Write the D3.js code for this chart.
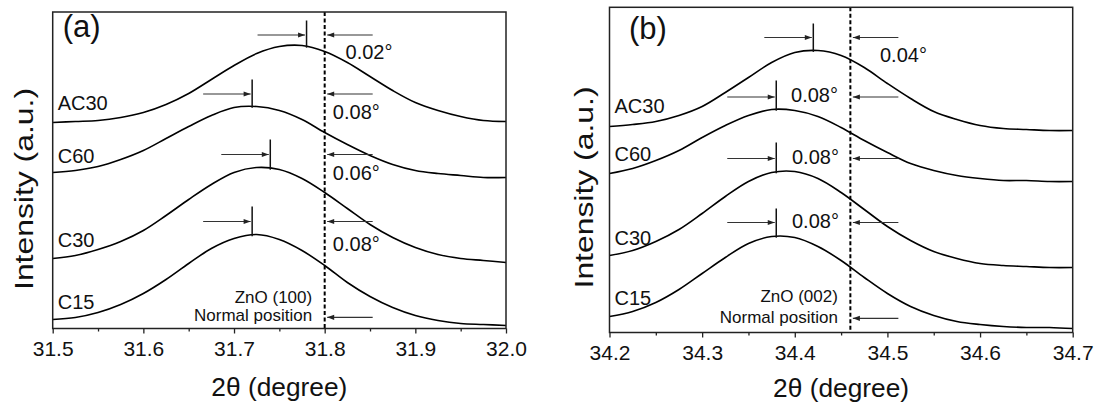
<!DOCTYPE html>
<html><head><meta charset="utf-8">
<script src="https://cdn.jsdelivr.net/npm/d3@7"></script>
<style>
html,body{margin:0;padding:0;background:#fff;}
svg{display:block;font-family:"Liberation Sans",Arial,Helvetica,sans-serif;}
</style></head><body>
<svg id="chart" width="1096" height="405"></svg>
<script>
// ---------- data ----------
const seriesNames = ["AC30", "C60", "C30", "C15"];

// Panel (a): ZnO (100)
const xA = [31.500, 31.525, 31.550, 31.575, 31.600, 31.625, 31.650, 31.675, 31.700, 31.725, 31.750,
            31.775, 31.800, 31.825, 31.850, 31.875, 31.900, 31.925, 31.950, 31.975, 32.000];
const a_AC30 = [206, 207, 208, 211, 216, 224, 235, 249, 263, 275, 282, 283, 277, 266, 252, 238, 226, 218, 212, 208, 207];
const a_C60  = [156, 158, 162, 169, 178, 190, 202, 213, 221, 222, 218, 209, 196, 184, 173, 164, 158, 155, 153, 151, 151];
const a_C30  = [70, 73, 79, 87, 98, 113, 129, 144, 156, 161, 159, 150, 136, 120, 104, 91, 81, 74, 70, 68, 66];
const a_C15  = [9, 11, 16, 24, 35, 49, 65, 80, 90, 94, 89, 78, 63, 46, 32, 21, 13, 8, 5, 4, 3];
const a_peak = [31.78, 31.72, 31.74, 31.72];
const a_shift = ["0.02°", "0.08°", "0.06°", "0.08°"];
const a_ref = 31.80;
const a_markTop = [308, 249, 189, 122];
const a_arrowLevel = [293.5, 234.5, 174, 107];
const a_shiftLabelX = [31.823, 31.809, 31.809, 31.809];
const a_shiftLabelY = [270, 210, 148.5, 78];
const a_nameY = [218.5, 166, 82, 20];
const a_ticks = [31.5, 31.6, 31.7, 31.8, 31.9, 32.0];
const a_minor = [31.55, 31.65, 31.75, 31.85, 31.95];
const a_plane = "ZnO (100)";

// Panel (b): ZnO (002)
const xB = [34.200, 34.225, 34.250, 34.275, 34.300, 34.325, 34.350, 34.375, 34.400, 34.425, 34.450,
            34.475, 34.500, 34.525, 34.550, 34.575, 34.600, 34.625, 34.650, 34.675, 34.700];
const b_AC30 = [206, 208, 211, 217, 226, 240, 255, 270, 280, 282, 277, 265, 249, 234, 221, 213, 207, 204, 203, 202, 202];
const b_C60  = [159, 164, 172, 182, 195, 207, 217, 223, 222, 216, 205, 192, 180, 169, 162, 157, 154, 152, 152, 151, 151];
const b_C30  = [77, 82, 91, 103, 119, 136, 151, 160, 161, 154, 140, 123, 106, 92, 81, 74, 69, 67, 66, 65, 65];
const b_C15  = [16, 21, 30, 43, 59, 75, 89, 96, 95, 86, 72, 55, 39, 26, 17, 11, 8, 6, 5, 5, 4];
const b_peak = [34.42, 34.38, 34.38, 34.38];
const b_shift = ["0.04°", "0.08°", "0.08°", "0.08°"];
const b_ref = 34.46;
const b_markTop = [309, 252, 190, 124];
const b_arrowLevel = [295, 235.5, 174, 110];
const b_shiftLabelX = [34.492, 34.396, 34.397, 34.397];
const b_shiftLabelY = [270.8, 230.2, 168.2, 104.2];
const b_nameY = [220, 171.5, 88, 27.5];
const b_ticks = [34.2, 34.3, 34.4, 34.5, 34.6, 34.7];
const b_minor = [34.25, 34.35, 34.45, 34.55, 34.65];
const b_plane = "ZnO (002)";

const xTitle = "2θ (degree)";
const yTitle = "Intensity (a.u.)";

// ---------- drawing ----------
const svg = d3.select("#chart");
svg.append("rect").attr("width", 1096).attr("height", 405).attr("fill", "#fff");

function drawPanel(p) {
  const x = d3.scaleLinear().domain([p.xs[0], p.xs[p.xs.length - 1]]).range([p.left, p.right]);
  const y = d3.scaleLinear().domain([0, p.yMax]).range([p.bottom, p.top]);
  const g = svg.append("g");
  const ink = "#111";

  // curves
  const line = d3.line().x(d => x(d[0])).y(d => y(d[1])).curve(d3.curveCatmullRom.alpha(0.5));
  p.values.forEach(vals => {
    g.append("path")
      .datum(p.xs.map((xv, i) => [xv, vals[i]]))
      .attr("d", line)
      .attr("fill", "none")
      .attr("stroke", "#000")
      .attr("stroke-width", 1.6)
      .attr("stroke-linejoin", "round");
  });

  // reference dashed line
  g.append("line")
    .attr("x1", x(p.ref)).attr("x2", x(p.ref))
    .attr("y1", p.top).attr("y2", p.bottom)
    .attr("stroke", "#000").attr("stroke-width", 2)
    .attr("stroke-dasharray", "4,2.5");

  // frame
  g.append("rect")
    .attr("x", p.left).attr("y", p.top)
    .attr("width", p.right - p.left).attr("height", p.bottom - p.top)
    .attr("fill", "none").attr("stroke", "#222").attr("stroke-width", 1.5);

  // x axis
  const axis = d3.axisBottom(x).tickValues(p.ticks).tickFormat(d3.format(".1f"))
    .tickSize(5).tickPadding(8);
  const ag = g.append("g").attr("transform", `translate(0,${p.bottom})`).call(axis);
  ag.select(".domain").remove();
  ag.attr("font-family", null).attr("font-size", null);
  ag.selectAll(".tick line").attr("stroke", "#222").attr("stroke-width", 1.3);
  ag.selectAll(".tick text").attr("font-size", 21).attr("fill", ink);
  const minorAxis = d3.axisBottom(x).tickValues(p.minor).tickFormat("").tickSize(3);
  const mg = g.append("g").attr("transform", `translate(0,${p.bottom})`).call(minorAxis);
  mg.select(".domain").remove();
  mg.selectAll(".tick line").attr("stroke", "#222").attr("stroke-width", 1.3);

  // axis titles
  g.append("text")
    .attr("x", (p.left + p.right) / 2).attr("y", p.xTitleY)
    .attr("text-anchor", "middle").attr("font-size", 25).attr("fill", ink)
    .attr("textLength", 136).attr("lengthAdjust", "spacingAndGlyphs")
    .text(xTitle);
  g.append("text")
    .attr("transform", `translate(${p.yTitleX},${p.yTitleCY}) rotate(-90)`)
    .attr("text-anchor", "middle").attr("font-size", 25).attr("fill", ink)
    .attr("textLength", 202).attr("lengthAdjust", "spacingAndGlyphs")
    .text(yTitle);

  // panel letter
  g.append("text")
    .attr("x", p.left + p.letterDX).attr("y", p.letterY)
    .attr("font-size", 31).attr("fill", ink).text(p.letter);

  // arrow helper
  function arrow(x1, x2, yy) {
    g.append("line").attr("x1", x1).attr("x2", x2).attr("y1", yy).attr("y2", yy)
      .attr("stroke", "#333").attr("stroke-width", 1.2);
    const dir = x2 > x1 ? 1 : -1;
    g.append("path")
      .attr("d", `M${x2},${yy} L${x2 - dir * 7},${yy - 2.6} L${x2 - dir * 7},${yy + 2.6} Z`)
      .attr("fill", "#222");
  }

  function valueAt(vals, xv) {
    const i = Math.max(1, d3.bisectLeft(p.xs, xv));
    const t = (xv - p.xs[i - 1]) / (p.xs[i] - p.xs[i - 1]);
    return vals[i - 1] + t * (vals[i] - vals[i - 1]);
  }

  seriesNames.forEach((name, k) => {
    const px = x(p.peak[k]);
    // peak marker
    g.append("line").attr("x1", px).attr("x2", px)
      .attr("y1", y(valueAt(p.values[k], p.peak[k])) + 1).attr("y2", y(p.markTop[k]))
      .attr("stroke", "#111").attr("stroke-width", 1.5);
    const ay = y(p.arrowLevel[k]);
    arrow(px - 49, px - 1.5, ay);
    arrow(x(p.ref) + 48, x(p.ref) + 2.5, ay);
    // shift label
    g.append("text").attr("x", x(p.shiftLabelX[k])).attr("y", y(p.shiftLabelY[k]))
      .attr("font-size", 20).attr("fill", ink).text(p.shift[k]);
    // series name
    g.append("text").attr("x", p.left + 5).attr("y", y(p.nameY[k]))
      .attr("font-size", 20).attr("fill", ink).text(name);
  });

  // normal position annotation
  g.append("text").attr("x", x(p.ref) - 12.5).attr("y", y(p.planeY))
    .attr("text-anchor", "end").attr("font-size", 17).attr("fill", ink).text(p.plane);
  g.append("text").attr("x", x(p.ref) - 12.5).attr("y", y(p.normalY))
    .attr("text-anchor", "end").attr("font-size", 17).attr("fill", ink).text("Normal position");
  arrow(x(p.ref) + 48, x(p.ref) + 2.5, y(p.normalArrow));
}

drawPanel({
  xs: xA, values: [a_AC30, a_C60, a_C30, a_C15],
  left: 52.7, right: 506, top: 12, bottom: 328.5, yMax: 316.5,
  ref: a_ref, peak: a_peak, shift: a_shift, markTop: a_markTop, arrowLevel: a_arrowLevel,
  shiftLabelX: a_shiftLabelX, shiftLabelY: a_shiftLabelY, nameY: a_nameY,
  ticks: a_ticks, minor: a_minor, plane: a_plane, planeY: 25.8, normalY: 7.5, normalArrow: 11.2,
  xTitleY: 396, yTitleX: 33, yTitleCY: 189, letter: "(a)", letterDX: 10, letterY: 37
});
drawPanel({
  xs: xB, values: [b_AC30, b_C60, b_C30, b_C15],
  left: 609.5, right: 1072.7, top: 7.3, bottom: 332.5, yMax: 325.2,
  ref: b_ref, peak: b_peak, shift: b_shift, markTop: b_markTop, arrowLevel: b_arrowLevel,
  shiftLabelX: b_shiftLabelX, shiftLabelY: b_shiftLabelY, nameY: b_nameY,
  ticks: b_ticks, minor: b_minor, plane: b_plane, planeY: 30.8, normalY: 9.2, normalArrow: 14.2,
  xTitleY: 396.7, yTitleX: 593, yTitleCY: 187.5, letter: "(b)", letterDX: 19.5, letterY: 39
});
</script>
</body></html>
